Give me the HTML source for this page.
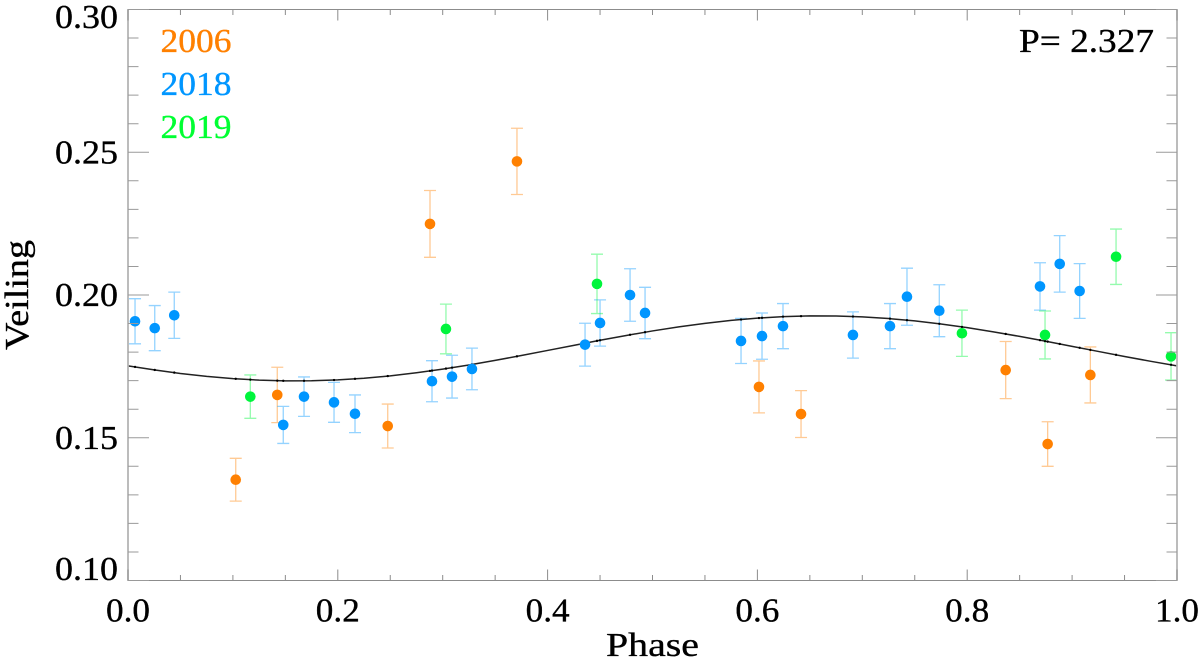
<!DOCTYPE html>
<html lang="en">
<head>
<meta charset="utf-8">
<title>Veiling vs Phase</title>
<style>
html,body{margin:0;padding:0;background:#fff;width:1200px;height:669px;overflow:hidden}
svg{display:block}
text{font-family:"Liberation Serif",serif;fill:#000;stroke:#000;stroke-width:.35px}
</style>
</head>
<body>
<svg id="chart" xmlns="http://www.w3.org/2000/svg" width="1200" height="669" viewBox="0 0 1200 669">
  <rect x="0" y="0" width="1200" height="669" fill="#fff"/>
  <g id="errors"></g>
  <g id="curve"></g>
  <g id="points"></g>
  <g id="axes"></g>
  <text x="160.5" y="52" font-size="34" textLength="71" lengthAdjust="spacingAndGlyphs" style="fill:#ff8000;stroke:#ff8000">2006</text>
  <text x="160.5" y="95" font-size="34" textLength="71" lengthAdjust="spacingAndGlyphs" style="fill:#0096ff;stroke:#0096ff">2018</text>
  <text x="160.5" y="138" font-size="34" textLength="71" lengthAdjust="spacingAndGlyphs" style="fill:#00ff32;stroke:#00ff32">2019</text>
  <text x="1019" y="52" font-size="34" textLength="135" lengthAdjust="spacingAndGlyphs">P= 2.327</text>
  <text x="606" y="656" font-size="34" textLength="93" lengthAdjust="spacingAndGlyphs">Phase</text>
  <text transform="translate(28,350) rotate(-90)" font-size="34" textLength="110" lengthAdjust="spacingAndGlyphs">Veiling</text>
</svg>
<script>
const phase2006 = [.1027,.1423,.2476,.2879,.3708,.6015,.6416,.8367,.8767,.9174];
const veil2006 = [.1353,.1650,.1541,.2249,.2468,.1678,.1583,.1737,.1478,.1720];
const err2006 = [.0075,.0097,.0077,.0117,.0116,.0091,.0082,.0100,.0078,.0098];

const phase2018 = [.0067,.0255,.0441,.1480,.1678,.1964,.2164,.2898,.3089,.3279,.4357,.4500,.4786,.4929,.5844,.6044,.6244,.6911,.7264,.7426,.7734,.8694,.8882,.9072];
const veil2018 = [.1908,.1884,.1929,.1545,.1644,.1624,.1584,.1698,.1714,.1741,.1826,.1902,.2000,.1937,.1839,.1856,.1891,.1860,.1891,.1994,.1945,.2030,.2109,.2014];
const err2018 = [.0079,.0079,.0081,.0065,.0069,.0070,.0066,.0072,.0075,.0073,.0075,.0081,.0092,.0090,.0079,.0081,.0079,.0081,.0079,.0100,.0091,.0083,.0099,.0096];

const phase2019 = [.1166,.3031,.4471,.7950,.8742,.9419,.9943];
const veil2019 = [.1644,.1881,.2039,.1866,.1860,.2134,.1785];
const err2019 = [.0076,.0087,.0104,.0081,.0084,.0097,.0083];

const curvePhase = [0,.025,.05,.075,.1,.125,.15,.175,.2,.225,.25,.275,.3,.325,.35,.375,.4,.425,.45,.475,.5,.525,.55,.575,.6,.625,.65,.675,.7,.725,.75,.775,.8,.825,.85,.875,.9,.925,.95,.975,1];
const curveVeil = [.17519,.17376,.17252,.17149,.17070,.17017,.16992,.16995,.17026,.17084,.17167,.17275,.17403,.17550,.17710,.17881,.18058,.18237,.18414,.18583,.18741,.18884,.19008,.19111,.19190,.19243,.19268,.19265,.19234,.19176,.19093,.18985,.18857,.18710,.18550,.18379,.18202,.18023,.17846,.17677,.17519];

const xTickLabels = ['0.0','0.2','0.4','0.6','0.8','1.0'];
const yTickLabels = ['0.10','0.15','0.20','0.25','0.30'];

const NS = 'http://www.w3.org/2000/svg';
const LEFT = 128, RIGHT = 1177, TOP = 9.5, BOTTOM = 580.5;
const X_MIN = 0, X_MAX = 1, Y_MIN = 0.10, Y_MAX = 0.30;
const xScale = v => LEFT + (v - X_MIN) / (X_MAX - X_MIN) * (RIGHT - LEFT);
const yScale = v => BOTTOM - (v - Y_MIN) / (Y_MAX - Y_MIN) * (BOTTOM - TOP);

function make(tag, parent, attrs) {
  const el = document.createElementNS(NS, tag);
  for (const k in attrs) el.setAttribute(k, attrs[k]);
  parent.appendChild(el);
  return el;
}
function curveAt(p) {
  for (let i = 1; i < curvePhase.length; i++) {
    if (p <= curvePhase[i]) {
      const t = (p - curvePhase[i - 1]) / (curvePhase[i] - curvePhase[i - 1]);
      return curveVeil[i - 1] + t * (curveVeil[i] - curveVeil[i - 1]);
    }
  }
  return curveVeil[curveVeil.length - 1];
}

const errorsG = document.getElementById('errors');
const pointsG = document.getElementById('points');
const curveG = document.getElementById('curve');
const axesG = document.getElementById('axes');

const seriesList = [
  {year: '2006', color: '#ff8000', xs: phase2006, ys: veil2006, es: err2006},
  {year: '2018', color: '#0096ff', xs: phase2018, ys: veil2018, es: err2018},
  {year: '2019', color: '#00f53c', xs: phase2019, ys: veil2019, es: err2019}
];

// model curve
const line = make('polyline', curveG, {
  points: curvePhase.map((p, i) => xScale(p).toFixed(2) + ',' + yScale(curveVeil[i]).toFixed(2)).join(' '),
  fill: 'none', stroke: '#222', 'stroke-width': 1.5
});



seriesList.forEach(s => {
  s.xs.forEach((p, i) => {
    const cx = xScale(p);
    const cy = yScale(s.ys[i]);
    const hi = yScale(s.ys[i] + s.es[i]);
    const lo = yScale(s.ys[i] - s.es[i]);
    const capL = Math.max(cx - 6, LEFT);
    const capR = Math.min(cx + 6, RIGHT);
    const bar = make('path', errorsG, {
      d: `M${cx} ${hi}V${lo}M${capL} ${hi}H${capR}M${capL} ${lo}H${capR}`,
      fill: 'none', stroke: s.color, 'stroke-width': 1.3, 'stroke-opacity': 0.42
    });
    
    

    const tick = make('circle', curveG, {cx: cx, cy: yScale(curveAt(p)), r: 1.2, fill: '#000'});
    
    

    const dot = make('circle', pointsG, {cx: cx, cy: cy, r: 5.3, fill: s.color});
    
    
  });
});

// frame
const frame = make('rect', axesG, {x: LEFT, y: TOP, width: RIGHT - LEFT, height: BOTTOM - TOP, fill: 'none', stroke: '#8c8c8c', 'stroke-width': 1});


[LEFT, RIGHT].forEach(x => {
  const edge = make('line', axesG, {x1: x, x2: x, y1: TOP, y2: BOTTOM, stroke: '#b4b4b4', 'stroke-width': 1.8});
  
  
});

// x ticks every 0.05, major every 0.2
for (let k = 0; k <= 20; k++) {
  const x = xScale(k * 0.05);
  const len = k % 4 === 0 ? 11 : 5.5;
  const tick = make('path', axesG, {d: `M${x} ${BOTTOM}v${-len}M${x} ${TOP}v${len}`, stroke: '#8c8c8c', 'stroke-width': 1, fill: 'none'});
  
  
}
// y ticks every 0.01, major every 0.05
for (let k = 0; k <= 20; k++) {
  const y = yScale(0.10 + k * 0.01);
  const len = k % 5 === 0 ? 21 : 10.5;
  const tick = make('path', axesG, {d: `M${LEFT} ${y}h${len}M${RIGHT} ${y}h${-len}`, stroke: '#9a9a9a', 'stroke-width': 1, fill: 'none'});
  
  
}

xTickLabels.forEach(lab => {
  const t = make('text', axesG, {x: xScale(parseFloat(lab)) - 22, y: 621.5, 'font-size': 34, textLength: 44, lengthAdjust: 'spacingAndGlyphs'});
  t.textContent = lab;
  
  
});
yTickLabels.forEach(lab => {
  const base = Math.min(580, Math.max(28, yScale(parseFloat(lab)) + 11));
  const t = make('text', axesG, {x: 55, y: base, 'font-size': 34, textLength: 63, lengthAdjust: 'spacingAndGlyphs'});
  t.textContent = lab;
  
  
});
</script>
</body>
</html>
